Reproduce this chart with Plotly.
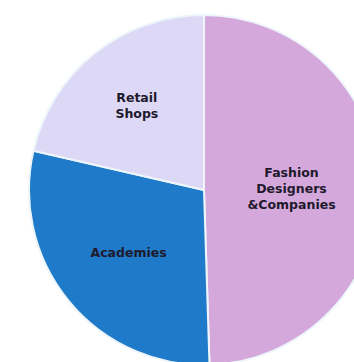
import plotly.graph_objects as go

labels = ["Fashion<br>Designers<br>&Companies", "Academies", "Retail<br>Shops"]
values = [49.5, 29.1, 21.4]
colors = ["#d5a8dc", "#1f7bc9", "#dcd8f5"]

fig = go.Figure(go.Pie(
    labels=labels,
    values=values,
    sort=False,
    direction="clockwise",
    rotation=0,
    marker=dict(colors=colors, line=dict(color="#eef6fb", width=2)),
    textinfo="label",
    textposition="inside",
    insidetextorientation="horizontal",
    textfont=dict(family="DejaVu Sans", size=12.5, color="#1e1a2c", weight="bold"),
    hoverinfo="label+percent",
    showlegend=False,
))

fig.update_layout(
    width=410, height=365,
    margin=dict(l=29, r=31, t=15, b=0),
    paper_bgcolor="white",
    plot_bgcolor="white",
    uniformtext=dict(minsize=12, mode="show"),
)

fig.write_html("out.html", post_script="document.body.style.margin='0';document.body.style.overflow='hidden';document.documentElement.style.overflow='hidden';")
